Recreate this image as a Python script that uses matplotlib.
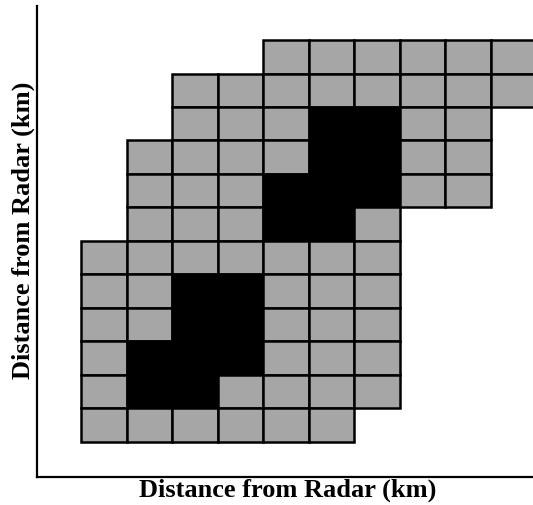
import matplotlib
matplotlib.use("Agg")
import matplotlib.pyplot as plt

# === grid data, rows listed top to bottom ===
row_start = [4, 2, 2, 1, 1, 1, 0, 0, 0, 0, 0, 0]
row_end = [9, 9, 8, 8, 8, 6, 6, 6, 6, 6, 6, 5]
black_cells = [[], [], [5, 6], [5, 6], [4, 5, 6], [4, 5], [], [2, 3], [2, 3], [1, 2, 3], [1, 2], []]
axis_label = "Distance from Radar (km)"

gray = "#a6a6a6"
n_rows = len(row_start)

fig = plt.figure(figsize=(5.33, 5.05), dpi=100)
ax = fig.add_axes([37 / 533, 28 / 505, 496 / 533, 471 / 505])

for r in range(n_rows):
    y = n_rows - 1 - r
    cols = list(range(row_start[r], row_end[r] + 1))
    colors = ["black" if c in black_cells[r] else gray for c in cols]
    ax.bar(cols, 1, width=1, bottom=y, align="edge", color=colors,
           edgecolor="black", linewidth=1.8)

ax.set_xlim(-0.979, 9.934)
ax.set_ylim(-1.045, 13.015)

for side in ["top", "right"]:
    ax.spines[side].set_visible(False)
for side in ["left", "bottom"]:
    ax.spines[side].set_linewidth(1.6)
ax.set_xticks([])
ax.set_yticks([])

font = dict(family="Liberation Serif", weight="bold", size=19)
ax.set_xlabel(axis_label, **font)
ax.set_ylabel(axis_label, **font)
ax.xaxis.set_label_coords(0.505, -0.004)
ax.yaxis.set_label_coords(-0.004, 0.523)

fig.savefig("out.png", dpi=100)
